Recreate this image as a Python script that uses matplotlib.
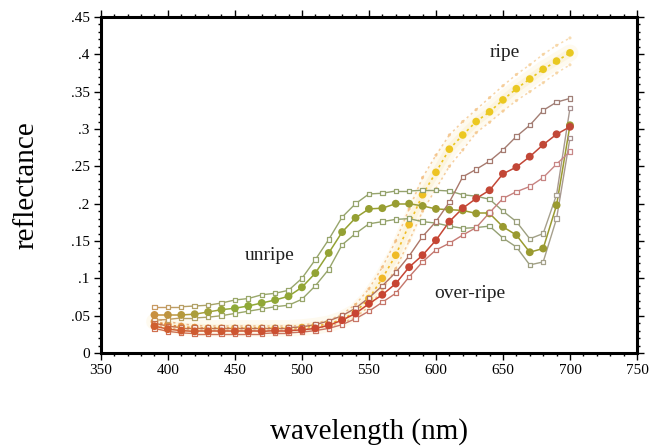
import numpy as np
import matplotlib
matplotlib.use("Agg")
import matplotlib.pyplot as plt
from matplotlib.collections import LineCollection
from matplotlib.colors import to_rgb

# ---------------- data ----------------
wavelength = [390, 400, 410, 420, 430, 440, 450, 460, 470, 480, 490, 500,
              510, 520, 530, 540, 550, 560, 570, 580, 590, 600, 610, 620,
              630, 640, 650, 660, 670, 680, 690, 700]

unripe_upper = [.062, .062, .062, .063, .064, .067, .071, .073, .078, .080, .084, .100,
                .125, .152, .182, .200, .213, .214, .217, .217, .218, .218, .217, .212,
                .210, .206, .190, .176, .153, .160, .212, .328]
unripe_mid = [.051, .051, .051, .052, .055, .058, .060, .063, .067, .071, .076, .088,
              .107, .134, .162, .181, .193, .194, .200, .200, .197, .193, .192, .191,
              .187, .187, .169, .158, .135, .140, .198, .305]
unripe_lower = [.044, .045, .047, .047, .048, .050, .053, .056, .059, .062, .064, .072,
                .090, .112, .145, .160, .173, .176, .179, .180, .176, .174, .170, .167,
                .168, .170, .154, .142, .118, .122, .180, .288]

over_upper = [.040, .036, .034, .034, .034, .034, .034, .034, .034, .034, .034, .035,
              .038, .043, .050, .060, .074, .090, .108, .130, .156, .176, .202, .236,
              .246, .257, .272, .290, .305, .325, .336, .341]
over_mid = [.036, .032, .030, .029, .029, .029, .029, .029, .029, .030, .030, .031,
            .033, .037, .044, .053, .066, .078, .093, .115, .131, .151, .176, .194,
            .207, .218, .240, .249, .263, .279, .293, .303]
over_lower = [.033, .029, .027, .026, .026, .026, .026, .026, .026, .027, .027, .028,
              .030, .033, .038, .046, .056, .068, .080, .102, .122, .138, .147, .158,
              .168, .188, .207, .216, .223, .235, .253, .270]

ripe_upper = [.046, .042, .039, .037, .036, .036, .036, .036, .036, .036, .036, .037,
              .040, .044, .052, .065, .086, .115, .150, .193, .235, .265, .292, .310,
              .326, .342, .358, .373, .386, .400, .412, .422]
ripe_mid = [.042, .038, .035, .034, .033, .033, .033, .033, .033, .033, .033, .034,
            .036, .039, .045, .055, .073, .100, .131, .172, .212, .242, .273, .292,
            .310, .323, .339, .354, .367, .380, .391, .402]
ripe_lower = [.038, .034, .032, .031, .031, .031, .031, .031, .031, .031, .031, .032,
              .033, .036, .040, .048, .062, .085, .113, .150, .190, .220, .250, .272,
              .295, .309, .324, .338, .350, .362, .375, .386]

x_ticks = [350, 400, 450, 500, 550, 600, 650, 700, 750]
y_ticks = [0, .05, .1, .15, .2, .25, .3, .35, .4, .45]
y_ticklabels = ["0", ".05", ".1", ".15", ".2", ".25", ".3", ".35", ".4", ".45"]
group_labels = ["unripe", "ripe", "over-ripe"]

# ---------------- style ----------------
plt.rcParams['font.family'] = ['Liberation Serif', 'DejaVu Serif']

fig = plt.figure(figsize=(6.55, 4.48), dpi=100)
ax = fig.add_axes([0.154, 0.212, 0.8185, 0.750])


def grad_colors(xs, stops):
    sx = [s[0] for s in stops]
    cols = np.array([to_rgb(s[1]) for s in stops])
    out = np.zeros((len(xs), 3))
    for k in range(3):
        out[:, k] = np.interp(xs, sx, cols[:, k])
    return out


def draw(xs, ys, stops, marker, ms, mfill, ls='-', lw=1.0, alpha=1.0, z=3):
    xs = np.asarray(xs, float)
    ys = np.asarray(ys, float)
    cols = grad_colors(xs, stops)
    pts = np.column_stack([xs, ys])
    segs = np.stack([pts[:-1], pts[1:]], axis=1)
    segcols = (cols[:-1] + cols[1:]) / 2
    lc = LineCollection(segs, colors=segcols, linewidths=lw, linestyles=ls,
                        alpha=alpha, zorder=z)
    ax.add_collection(lc)
    if mfill:
        ax.scatter(xs, ys, s=ms, c=cols, marker=marker, edgecolors='none',
                   alpha=alpha, zorder=z + 0.5)
    else:
        ax.scatter(xs, ys, s=ms, facecolors='white', edgecolors=cols,
                   marker=marker, linewidths=0.9, alpha=alpha, zorder=z + 0.5)


# faint glow behind ripe band
ax.plot(wavelength, ripe_mid, color='#f8dc90', lw=12, alpha=0.14,
        solid_capstyle='round', zorder=1)
ax.plot(wavelength, ripe_mid, color='#f6d27a', lw=6, alpha=0.14,
        solid_capstyle='round', zorder=1)

# ripe (dotted)
ripe_side = [(390, '#e4a070'), (560, '#f2b878'), (700, '#f6d4a0')]
draw(wavelength, ripe_upper, ripe_side, 'o', 5, True, ls=(0, (1.5, 2)), lw=1.1, alpha=0.8)
draw(wavelength, ripe_lower, ripe_side, 'o', 5, True, ls=(0, (1.5, 2)), lw=1.1, alpha=0.8)
draw(wavelength, ripe_mid, [(390, '#e08a40'), (560, '#f0b828'), (620, '#ecc820'), (700, '#e8c820')],
     'o', 30, True, ls=(0, (1.5, 2)), lw=1.2)

# unripe
un_side = [(390, '#c89a62'), (450, '#9aa86a'), (640, '#92a070'), (690, '#a8a090'), (700, '#a89090')]
draw(wavelength, unripe_upper, un_side, 's', 10, False, lw=1.0)
draw(wavelength, unripe_lower, un_side, 's', 10, False, lw=1.0)
draw(wavelength, unripe_mid, [(390, '#c89040'), (450, '#8eaa38'), (600, '#9a9a30'), (700, '#9a9a30')],
     'o', 32, True, lw=1.1)

# over-ripe
draw(wavelength, over_upper, [(390, '#c87048'), (540, '#b07060'), (700, '#a08078')],
     's', 10, False, lw=1.0)
draw(wavelength, over_lower, [(390, '#d07050'), (600, '#c47870'), (700, '#c88888')],
     's', 10, False, lw=1.0)
draw(wavelength, over_mid, [(390, '#d06030'), (540, '#c84432'), (700, '#c04838')],
     'o', 32, True, lw=1.1)

# group labels
ax.text(476, .131, group_labels[0], fontsize=14, ha='center', va='center', color='#222222')
ax.text(651, .402, group_labels[1], fontsize=14, ha='center', va='center', color='#222222')
ax.text(625, .080, group_labels[2], fontsize=14, ha='center', va='center', color='#222222')

# axes
ax.set_xlim(350, 750)
ax.set_ylim(0, 0.45)
ax.set_xticks(x_ticks)
ax.set_xticks(np.arange(350, 751, 10), minor=True)
ax.set_yticks(y_ticks)
ax.set_yticklabels(y_ticklabels)
ax.set_yticks(np.arange(0, 0.451, 0.01), minor=True)
ax.tick_params(which='both', direction='out', top=True, right=True,
               labelsize=11, width=1.0, color='black', pad=3)
ax.tick_params(which='major', length=5)
ax.tick_params(which='minor', length=2.5)
for sp in ax.spines.values():
    sp.set_linewidth(2.2)

ax.set_xlabel('wavelength (nm)', fontsize=21, va='center')
ax.xaxis.set_label_coords(0.5, -0.235)
ax.set_ylabel('reflectance', fontsize=21, va='center')
ax.yaxis.set_label_coords(-0.138, 0.5)

fig.savefig('out.png', dpi=100)
